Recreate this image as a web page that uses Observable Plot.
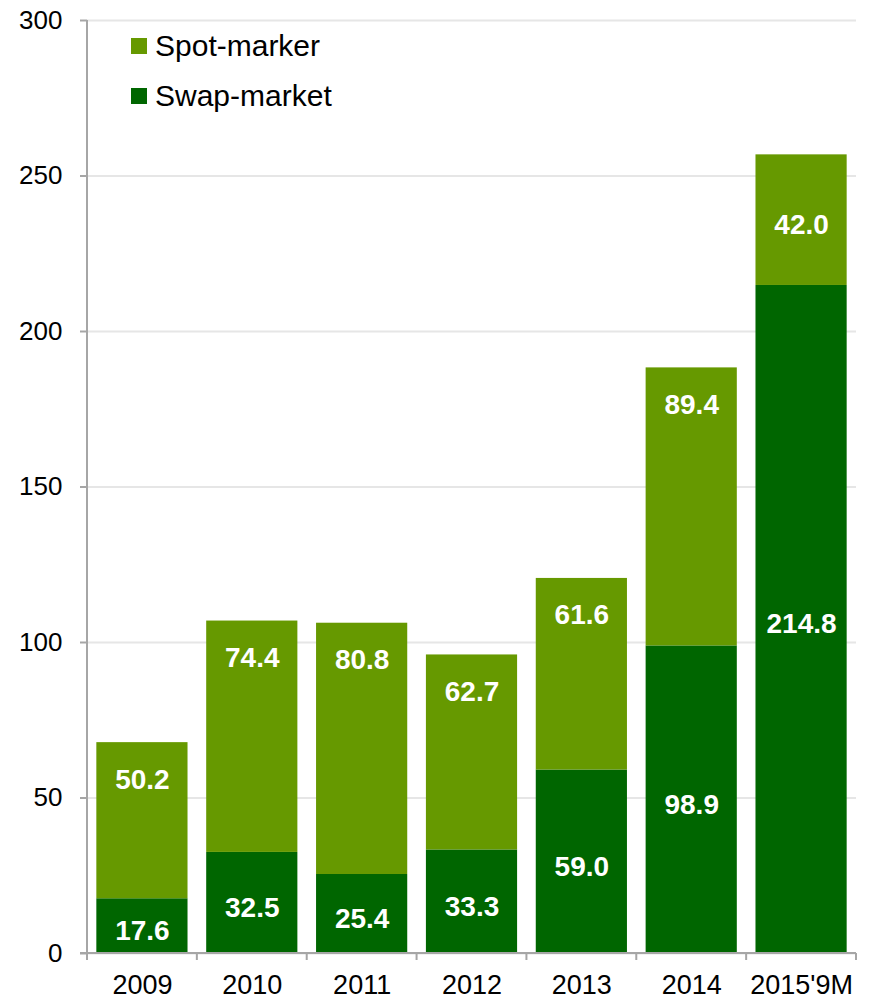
<!DOCTYPE html>
<html>
<head>
<meta charset="utf-8">
<script src="https://cdn.jsdelivr.net/npm/d3@7"></script>
<script src="https://cdn.jsdelivr.net/npm/@observablehq/plot@0.6"></script>
<style>
  html, body { margin: 0; padding: 0; background: #fff; }
  #chart { position: relative; width: 869px; height: 1004px; font-family: "Liberation Sans", Arial, sans-serif; }
  .legend { position: absolute; left: 131px; font-size: 30px; line-height: 30px; color: #000; display: flex; align-items: center; }
  .legend span.sw { display: inline-block; width: 16px; height: 16px; margin-right: 8px; }
</style>
</head>
<body>
<div id="chart"></div>
<script>
const categories = ["2009", "2010", "2011", "2012", "2013", "2014", "2015'9M"];
const swapValues = [17.6, 32.5, 25.4, 33.3, 59.0, 98.9, 214.8];
const spotValues = [50.2, 74.4, 80.8, 62.7, 61.6, 89.4, 42.0];
const seriesNames = ["Spot-marker", "Swap-market"];
const seriesColors = ["#669900", "#006600"];
const yTicks = [0, 50, 100, 150, 200, 250, 300];

const PAD_INNER = 0.17, PAD_OUTER = 0.085;

const rows = [];
categories.forEach((c, i) => {
  rows.push({cat: c, series: "Swap-market", y1: 0, y2: swapValues[i], v: swapValues[i]});
  rows.push({cat: c, series: "Spot-marker", y1: swapValues[i], y2: swapValues[i] + spotValues[i], v: spotValues[i]});
});
const swapRows = rows.filter(d => d.series === "Swap-market");
const spotRows = rows.filter(d => d.series === "Spot-marker");
// Spot labels sit near the top of their segment unless the segment is a small share of the bar
const spotTop = spotRows.filter(d => d.v / d.y2 >= 0.2);
const spotMid = spotRows.filter(d => d.v / d.y2 < 0.2);

const axisLines = (index, scales, values, dims) => {
  const g = d3.create("svg:g");
  const x0 = dims.marginLeft, x1 = dims.width - dims.marginRight;
  const yb = dims.height - dims.marginBottom, yt = dims.marginTop;
  g.append("line").attr("x1", x0).attr("x2", x0).attr("y1", yt).attr("y2", yb + 7)
    .attr("stroke", "#a6a6a6").attr("stroke-width", 2);
  g.append("line").attr("x1", x0 - 7).attr("x2", x1).attr("y1", yb).attr("y2", yb)
    .attr("stroke", "#a6a6a6").attr("stroke-width", 2);
  const xs = categories.map(c => scales.x(c));
  const step = xs[1] - xs[0];
  const gap = step * PAD_INNER;
  const bw = step - gap;
  const bounds = xs.map(x => x - gap / 2);
  bounds.push(xs[xs.length - 1] + bw + gap / 2);
  bounds.forEach(b => {
    g.append("line").attr("x1", b).attr("x2", b).attr("y1", yb).attr("y2", yb + 7)
      .attr("stroke", "#a6a6a6").attr("stroke-width", 2);
  });
  return g.node();
};

const chart = Plot.plot({
  width: 869,
  height: 1004,
  marginLeft: 87,
  marginRight: 13,
  marginTop: 20,
  marginBottom: 51,
  style: {fontFamily: "'Liberation Sans', Arial, sans-serif", background: "#fff", overflow: "visible"},
  x: {domain: categories, paddingInner: PAD_INNER, paddingOuter: PAD_OUTER, round: false, label: null},
  y: {domain: [0, 300], label: null},
  color: {domain: seriesNames, range: seriesColors},
  marks: [
    Plot.gridY(yTicks, {stroke: "#e6e6e6", strokeOpacity: 1, strokeWidth: 2}),
    Plot.rectY(rows, {x: "cat", y1: "y1", y2: "y2", fill: "series"}),
    Plot.text(swapRows, {x: "cat", y: d => (d.y1 + d.y2) / 2, text: d => d.v.toFixed(1), dy: 5,
      fill: "#fff", fontWeight: "bold", fontSize: 28}),
    Plot.text(spotTop, {x: "cat", y: "y2", text: d => d.v.toFixed(1), dy: 37,
      fill: "#fff", fontWeight: "bold", fontSize: 28}),
    Plot.text(spotMid, {x: "cat", y: d => (d.y1 + d.y2) / 2, text: d => d.v.toFixed(1), dy: 5,
      fill: "#fff", fontWeight: "bold", fontSize: 28}),
    Plot.axisY(yTicks, {tickSize: 7, tickPadding: 18, fontSize: 26, stroke: "#a6a6a6", strokeWidth: 2, fill: "#000", label: null}),
    Plot.axisX({tickSize: 0, tickPadding: 21, fontSize: 27, fill: "#000", label: null}),
    axisLines
  ]
});
const root = document.getElementById("chart");
root.appendChild(chart);

const legendTops = [31, 81];
seriesNames.forEach((name, i) => {
  const div = document.createElement("div");
  div.className = "legend";
  div.style.top = legendTops[i] + "px";
  div.innerHTML = `<span class="sw" style="background:${seriesColors[i]}"></span><span>${name}</span>`;
  root.appendChild(div);
});
</script>
</body>
</html>
